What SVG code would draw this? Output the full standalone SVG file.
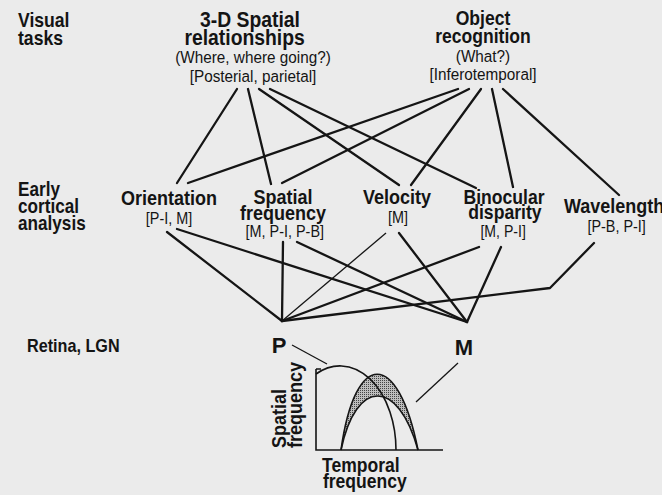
<svg xmlns="http://www.w3.org/2000/svg" width="662" height="495" viewBox="0 0 662 495">
<defs>
<style>
text{font-family:"Liberation Sans",Arial,sans-serif;fill:#141414}
.h{font-weight:bold;font-size:20px}
.s{font-size:17px}
.b{font-size:16px}
.c{text-anchor:middle}
.ln{stroke:#151515;stroke-width:2.3;fill:none;stroke-linecap:round;stroke-linejoin:round}
.thin{stroke:#151515;stroke-width:1.3;fill:none}
.g{stroke:#151515;stroke-width:1.6;fill:none}
</style>
<pattern id="dots" width="2" height="2" patternUnits="userSpaceOnUse">
<rect width="2" height="2" fill="#bdbdbd"/>
<rect width="1" height="1" fill="#444"/>
</pattern>
</defs>
<rect width="662" height="495" fill="#ebebeb"/>

<g id="row-labels">
<text class="h" transform="translate(18 0) scale(0.88 1)" style="font-size:20px"><tspan x="0" y="27">Visual</tspan><tspan x="0" y="45">tasks</tspan></text>
<text class="h" transform="translate(18 0) scale(0.88 1)" style="font-size:19.5px"><tspan x="0" y="196">Early</tspan><tspan x="0" y="213">cortical</tspan><tspan x="0" y="230">analysis</tspan></text>
<text class="h" transform="translate(27 0) scale(0.9 1)" style="font-size:18px"><tspan x="0" y="352">Retina, LGN</tspan></text>
</g>

<g id="spatial-relationships">
<text class="h c" transform="translate(250 0) scale(0.9 1)" style="font-size:21.5px"><tspan x="0" y="27">3-D Spatial</tspan><tspan x="-6" y="45">relationships</tspan></text>
<text class="s c" transform="translate(253 0) scale(0.9 1)"><tspan x="0" y="63">(Where, where going?)</tspan><tspan x="0" y="82">[Posterial, parietal]</tspan></text>
</g>

<g id="object-recognition">
<text class="h c" transform="translate(483 0) scale(0.9 1)" style="font-size:19.5px"><tspan x="0" y="25">Object</tspan><tspan x="0" y="43">recognition</tspan></text>
<text class="s c" transform="translate(483 0) scale(0.9 1)"><tspan x="0" y="62">(What?)</tspan><tspan x="0" y="80">[Inferotemporal]</tspan></text>
</g>

<g id="orientation">
<text class="c" transform="translate(169 0) scale(0.9 1)"><tspan class="h" x="0" y="205">Orientation</tspan><tspan class="b" x="0" y="224">[P-I, M]</tspan></text>
</g>
<g id="spatial-frequency">
<text class="c" transform="translate(283 0) scale(0.9 1)"><tspan class="h" x="0" y="204">Spatial</tspan><tspan class="h" x="0" y="220">frequency</tspan><tspan class="b" x="2" y="237">[M, P-I, P-B]</tspan></text>
</g>
<g id="velocity">
<text class="c" transform="translate(397 0) scale(0.9 1)"><tspan class="h" x="0" y="204">Velocity</tspan><tspan class="b" x="1" y="223">[M]</tspan></text>
</g>
<g id="binocular-disparity">
<text class="c" transform="translate(504 0) scale(0.88 1)"><tspan class="h" x="0" y="204">Binocular</tspan><tspan class="h" x="1" y="219">disparity</tspan><tspan class="b" x="-1" y="237">[M, P-I]</tspan></text>
</g>
<g id="wavelength">
<text transform="translate(564 0) scale(0.9 1)"><tspan class="h" x="0" y="213">Wavelength</tspan><tspan class="b" x="26" y="232">[P-B, P-I]</tspan></text>
</g>

<g id="P">
<text class="c" x="279" y="353" style="font-weight:bold;font-size:22px">P</text>
</g>
<g id="M">
<text class="c" x="464" y="355" style="font-weight:bold;font-size:22px">M</text>
</g>

<g id="connectors">
<path class="ln" d="M237 89 L177 183"/>
<path class="ln" d="M248 89 L271 184"/>
<path class="ln" d="M259 89 L399 185"/>
<path class="ln" d="M270 89 L476 188"/>
<path class="ln" d="M458 89 L188 183"/>
<path class="ln" d="M469 89 L282 183"/>
<path class="ln" d="M481 89 L411 185"/>
<path class="ln" d="M492 89 L513 187"/>
<path class="ln" d="M503 89 L619 195"/>
<path class="ln" d="M167 232 L282 321"/>
<path class="ln" d="M283 242 L282 321"/>
<path class="thin" d="M386 233 L282 321"/>
<path class="ln" d="M479 247 L282 321"/>
<path class="ln" d="M594 243 L550 288 L282 321"/>
<path class="ln" d="M177 229 L467 322"/>
<path class="ln" d="M297 242 L467 322"/>
<path class="ln" d="M399 233 L467 322"/>
<path class="ln" d="M501 247 L467 322"/>
<path class="thin" d="M292 345 L327 364"/>
<path class="thin" d="M458 363 L416 402"/>
</g>

<g id="graph">
<path d="M341 450 C355 349 398 349 418 450 C398 378 356 378 341 450 Z" fill="url(#dots)"/>
<path class="g" d="M341 450 C355 349 398 349 418 450"/>
<path class="g" d="M341 450 C356 378 398 378 418 450"/>
<path class="g" d="M316 374 A56 84 0 0 1 396 450"/>
<path class="g" d="M316 369 L316 450 L443 450 M316 369 L321 369"/>
<text class="h" transform="translate(0 448) rotate(-90) scale(0.9 1)" style="font-size:20px"><tspan x="0" y="286">Spatial</tspan><tspan x="0" y="302">frequency</tspan></text>
<text class="h" transform="translate(322 0) scale(0.9 1)" style="font-size:19.5px"><tspan x="0" y="472">Temporal</tspan><tspan x="1" y="488">frequency</tspan></text>
</g>
</svg>
